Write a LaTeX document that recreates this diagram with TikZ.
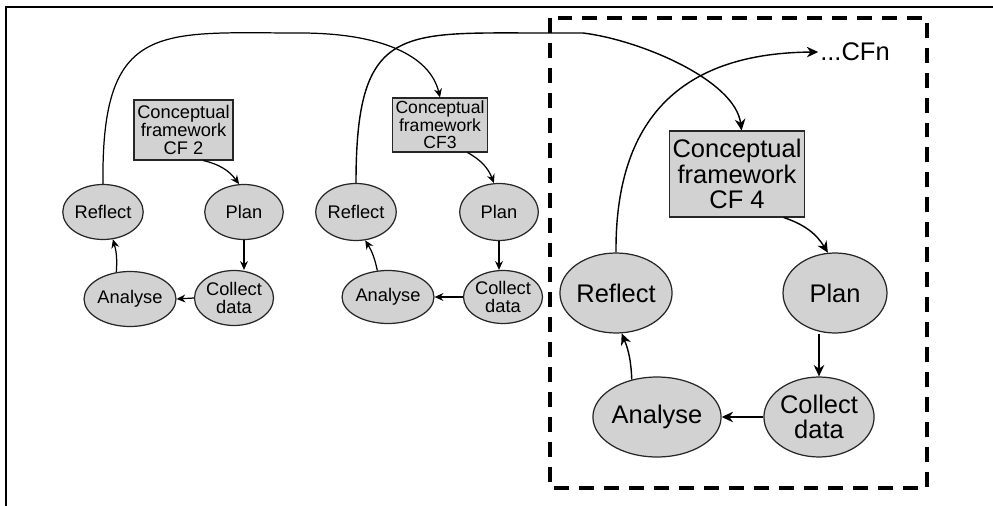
\documentclass[tikz,border=0pt]{standalone}
\usepackage{fontspec}
\setmainfont{Liberation Sans}
\usepackage{tikz}
\usetikzlibrary{shapes.geometric,arrows.meta}
\definecolor{stagefill}{HTML}{D2D2D2}

\begin{document}
\begin{tikzpicture}[
    x=0.02cm, y=0.02cm,
    stage/.style={ellipse,draw=black!85,fill=stagefill,line width=0.7pt,inner sep=0pt,align=center,
                  font=\fontsize{10.4}{10.4}\selectfont,minimum width=1.57cm,minimum height=1.1cm},
    bigstage/.style={stage,minimum width=2.08cm,minimum height=1.6cm,font=\fontsize{14.5}{14.3}\selectfont},
    cfbox/.style={draw=black!85,fill=stagefill,line width=0.6pt,inner xsep=1pt,inner ysep=0pt,align=center,
                  font=\fontsize{10.4}{10.4}\selectfont},
    bigcfbox/.style={cfbox,font=\fontsize{14.5}{14.3}\selectfont,minimum width=2.7cm,minimum height=1.72cm},
    arrow/.style={-{Stealth[length=5pt,width=4.5pt]},line width=0.7pt},
    bigarrow/.style={-{Stealth[length=6.5pt,width=6pt]},line width=0.8pt},
    focus/.style={draw,line width=2.4pt,dash pattern=on 8.5pt off 5.7pt}
  ]
    \useasboundingbox (0,0) rectangle (993,-506);
    \draw[line width=1.1pt] (6,-506) -- (6,-7) -- (993,-7);

    % first cycle
    \node[cfbox,minimum width=1.98cm,minimum height=1.2cm] (f2) at (183.5,-130) {Conceptual\\framework\\CF 2};
    \node[stage] (r2) at (103,-212) {Reflect};
    \node[stage] (p2) at (244,-212) {Plan};
    \node[stage] (c2) at (234,-298) {Collect\\data};
    \node[stage] (a2) at (130,-299) {Analyse};

    % second cycle
    \node[cfbox,minimum width=1.9cm,minimum height=1.08cm,font=\fontsize{10}{10}\selectfont] (f3) at (440,-125) {Conceptual\\framework\\CF3};
    \node[stage,minimum height=1.14cm] (r3) at (356,-212) {Reflect};
    \node[stage,minimum height=1.14cm] (p3) at (499,-212) {Plan};
    \node[stage,minimum width=1.48cm,minimum height=1.06cm] (c3) at (503,-297) {Collect\\data};
    \node[stage,minimum height=1.06cm] (a3) at (388,-297) {Analyse};

    % third cycle, enlarged
    \draw[focus] (550,-18) rectangle (927,-488);
    \node[bigcfbox] (f4) at (737,-174) {Conceptual\\framework\\CF 4};
    \node[bigstage] (r4) at (616,-293) {Reflect};
    \node[bigstage] (p4) at (835,-293) {Plan};
    \node[bigstage] (c4) at (819,-417) {Collect\\data};
    \node[bigstage] (a4) at (657,-417) {Analyse};
    \node[inner sep=1pt,font=\fontsize{14.5}{14.5}\selectfont] (cfn) at (855,-52) {...CFn};

    \draw[arrow] (f2.-57) to[bend left=20] (p2.100);
    \draw[arrow] (p2.south) -- (p2.south |- c2.north);
    \draw[arrow] (c2.west) -- (a2.east);
    \draw[arrow] (a2.117) to[bend right=10] (r2.-70);

    \draw[arrow] (f3.-45) to[bend left=20] (p3.100);
    \draw[arrow] (p3.south) -- (p3.south |- c3.north);
    \draw[arrow] (c3.west) -- (a3.east);
    \draw[arrow] (a3.112) to[bend right=10] (r3.-72);

    \draw[bigarrow] (f4.-43) to[bend left=20] (p4.100);
    \draw[bigarrow] (p4.south -| c4.north) -- (c4.north);
    \draw[bigarrow] (c4.west) -- (a4.east);
    \draw[bigarrow] (a4.124) to[bend right=10] (r4.-82);

    % reflection feeds the next framework
    \draw[arrow] (r2.north) .. controls (101,-20) and (160,-33) .. (300,-33)
                 .. controls (380,-33) and (430,-55) .. (f3.north);
    \draw[bigarrow] (r3.north) .. controls (356,-25) and (400,-33) .. (540,-33) -- (583,-33)
                 .. controls (640,-40) and (735,-80) .. (f4.84);
    \draw[bigarrow] (r4.north) .. controls (615,-110) and (690,-53) .. (cfn.west);
\end{tikzpicture}
\end{document}
